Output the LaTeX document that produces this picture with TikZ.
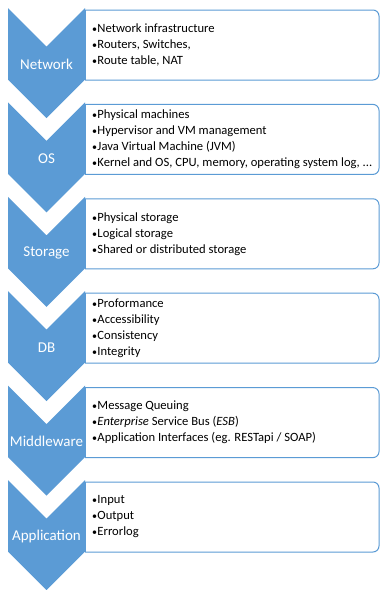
\documentclass[tikz,border=0pt]{standalone}
\usepackage{fontspec}
\setmainfont{Carlito}
\definecolor{chevblue}{HTML}{5B9BD5}
\newcommand\bul{{\fontsize{10}{10}\selectfont\textbullet}\kern0.3pt}
\begin{document}
\begin{tikzpicture}[x=1pt,y=-1pt,
  chevron/.style={fill=chevblue,draw=none},
  itembox/.style={draw=chevblue,line width=1pt,fill=white,rounded corners=6pt},
  stagelabel/.style={text=white,font=\fontsize{15}{18}\selectfont,inner sep=0pt},
  itemlist/.style={anchor=west,align=left,inner sep=0pt,
    font=\fontsize{12.6}{16}\selectfont}]
\useasboundingbox (0,0) rectangle (380,590);
\foreach \k/\name/\lab/\body in {
  0/net/Network/{\bul Network infrastructure\\\bul Routers, Switches,\\\bul Route table, NAT},
  1/os/OS/{\bul Physical machines\\\bul Hypervisor and VM management\\\bul Java Virtual Machine (JVM)\\\bul Kernel and OS, CPU, memory, operating system log, ...},
  2/sto/Storage/{\bul Physical storage\\\bul Logical storage\\\bul Shared or distributed storage},
  3/db/DB/{\bul Proformance\\\bul Accessibility\\\bul Consistency\\\bul Integrity},
  4/mid/Middleware/{\bul Message Queuing\\\bul \textit{Enterprise} Service Bus (\textit{ESB})\\\bul Application Interfaces (eg. RESTapi / SOAP)},
  5/app/Application/{\bul Input\\\bul Output\\\bul Errorlog}}{
  \pgfmathsetmacro\t{8+94.4*\k}
  % list box: square on the left, rounded on the right
  \begin{scope}
    \clip (85,\t) rectangle (381,\t+80);
    \draw[itembox] (70,\t+2) rectangle (379,\t+72);
  \end{scope}
  \draw[chevblue,line width=1pt] (85,\t+2) -- (85,\t+72);
  % downward chevron
  \fill[chevron] (8,\t) -- (46.5,\t+38.5) -- (85,\t) -- (85,\t+71.5)
    -- (46.5,\t+110) -- (8,\t+71.5) -- cycle;
  \node[stagelabel] (\name-lab) at (46.5,\t+56) {\lab};
  \node[itemlist] (\name-list) at (92,\t+37) {\body};
}
\end{tikzpicture}
\end{document}
